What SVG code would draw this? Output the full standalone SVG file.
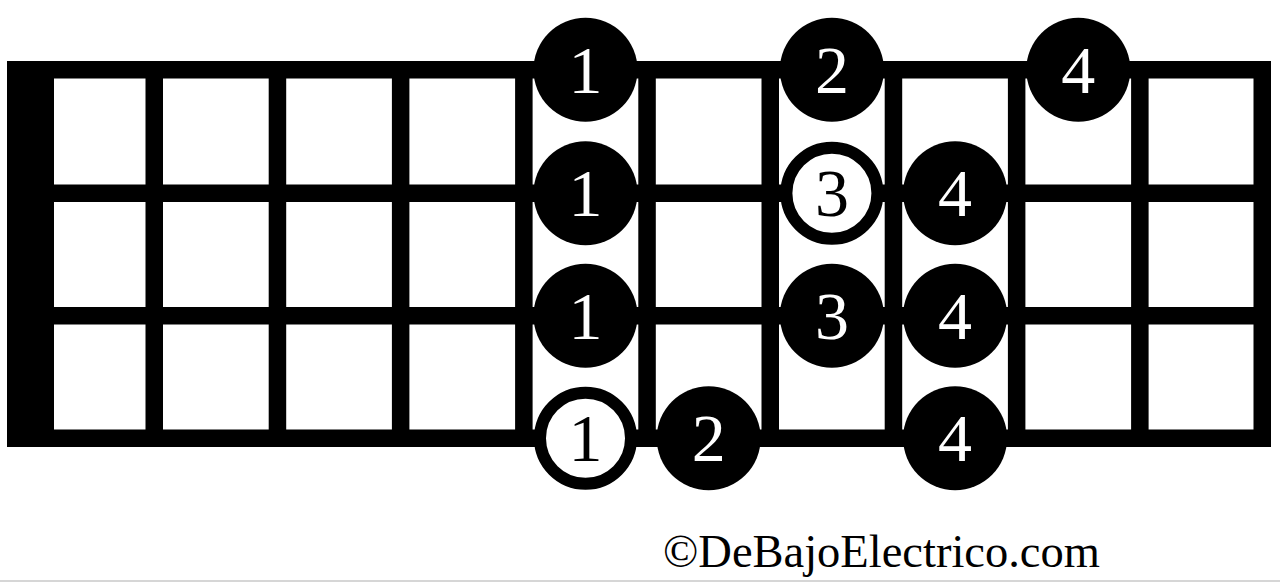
<svg xmlns="http://www.w3.org/2000/svg" width="1280" height="584" viewBox="0 0 1280 584">
<style>
.bar{fill:#000}
.dot{fill:#000}
.open{fill:#fff;stroke:#000;stroke-width:12}
.n{font-family:"Liberation Serif","Times New Roman",serif;font-size:68px;text-anchor:middle}
.w{fill:#fff}
.b{fill:#000}
.credit{font-family:"Liberation Serif","Times New Roman",serif;font-size:46.5px;fill:#000}
</style>
<rect width="1280" height="584" fill="#fff"/>
<g id="fretboard">
  <rect class="bar" x="7" y="61" width="47" height="386"/>
  <rect class="bar" x="7" y="61" width="1264" height="17.5"/>
  <rect class="bar" x="7" y="184.5" width="1264" height="17.5"/>
  <rect class="bar" x="7" y="307" width="1264" height="17.5"/>
  <rect class="bar" x="7" y="429.5" width="1264" height="17.5"/>
  <rect class="bar" x="145.5" y="61" width="17.5" height="386"/>
  <rect class="bar" x="268.7" y="61" width="17.5" height="386"/>
  <rect class="bar" x="391.9" y="61" width="17.5" height="386"/>
  <rect class="bar" x="515.1" y="61" width="17.5" height="386"/>
  <rect class="bar" x="638.3" y="61" width="17.5" height="386"/>
  <rect class="bar" x="761.5" y="61" width="17.5" height="386"/>
  <rect class="bar" x="884.7" y="61" width="17.5" height="386"/>
  <rect class="bar" x="1007.9" y="61" width="17.5" height="386"/>
  <rect class="bar" x="1131.1" y="61" width="17.5" height="386"/>
  <rect class="bar" x="1253.5" y="61" width="17.5" height="386"/>
</g>
<g id="connectors"></g>
<g id="n1-s1"><circle class="dot" cx="585.5" cy="69.75" r="52"/><text class="n w" x="585.5" y="92.75">1</text></g>
<g id="n1-s2"><circle class="dot" cx="585.5" cy="193.25" r="52"/><text class="n w" x="585.5" y="216.25">1</text></g>
<g id="n1-s3"><circle class="dot" cx="585.5" cy="315.75" r="52"/><text class="n w" x="585.5" y="338.75">1</text></g>
<g id="n1-s4"><circle class="open" cx="585.5" cy="438.25" r="45.5"/><text class="n b" x="585.5" y="461.25">1</text></g>
<g id="n2-s4"><circle class="dot" cx="708.7" cy="438.25" r="52"/><text class="n w" x="708.7" y="461.25">2</text></g>
<g id="n2-s1"><circle class="dot" cx="831.9" cy="69.75" r="52"/><text class="n w" x="831.9" y="92.75">2</text></g>
<g id="n3-s2"><circle class="open" cx="831.9" cy="193.25" r="45.5"/><text class="n b" x="831.9" y="216.25">3</text></g>
<g id="n3-s3"><circle class="dot" cx="831.9" cy="315.75" r="52"/><text class="n w" x="831.9" y="338.75">3</text></g>
<g id="n4-s2"><circle class="dot" cx="955.1" cy="193.25" r="52"/><text class="n w" x="955.1" y="216.25">4</text></g>
<g id="n4-s3"><circle class="dot" cx="955.1" cy="315.75" r="52"/><text class="n w" x="955.1" y="338.75">4</text></g>
<g id="n4-s4"><circle class="dot" cx="955.1" cy="438.25" r="52"/><text class="n w" x="955.1" y="461.25">4</text></g>
<g id="n4-s1"><circle class="dot" cx="1078.3" cy="69.75" r="52"/><text class="n w" x="1078.3" y="92.75">4</text></g>
<g id="credit"><text class="credit" x="663" y="567">©DeBajoElectrico.com</text></g>
<line x1="0" y1="581" x2="1280" y2="581" stroke="#c8c8c8" stroke-width="1.5"/>
</svg>
